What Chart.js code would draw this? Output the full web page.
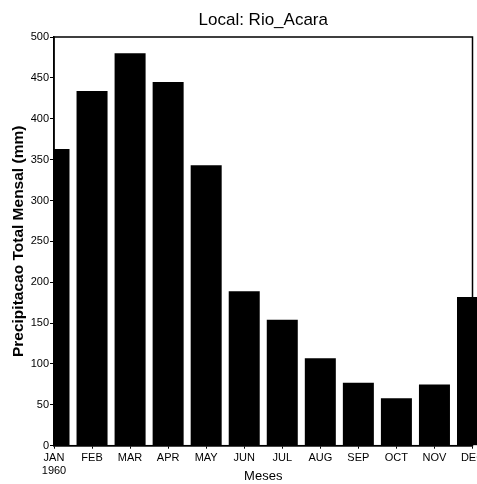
<!DOCTYPE html>
<html lang="pt">
<head>
    <meta charset="UTF-8">
    <title>Local: Rio_Acara</title>
    <script src="https://cdn.jsdelivr.net/npm/chart.js"></script>
    <style>
        html, body { margin: 0; padding: 0; background: #fff; }
        #wrap { width: 477px; height: 484px; }
    </style>
</head>
<body>
    <div id="wrap"><canvas id="barChart" width="477" height="484"></canvas></div>

    <script>
        // Monthly data
        const months = [['JAN', '1960'], 'FEB', 'MAR', 'APR', 'MAY', 'JUN', 'JUL', 'AUG', 'SEP', 'OCT', 'NOV', 'DEC'];
        const precip = [363, 434, 480, 445, 343, 189, 154, 107, 77, 58, 75, 182];
        const yTicks = [0, 50, 100, 150, 200, 250, 300, 350, 400, 450, 500];

        const tickFont = { family: 'Liberation Sans, Arial, sans-serif', size: 11 };

        // frame around the plot area (top + right lines)
        const frame = {
            id: 'frame',
            afterDatasetsDraw(chart) {
                const a = chart.chartArea;
                const ctx = chart.ctx;
                ctx.save();
                ctx.strokeStyle = '#000';
                ctx.lineWidth = 1.5;
                ctx.strokeRect(a.left, a.top, a.right - a.left, a.bottom - a.top);
                ctx.restore();
            }
        };

        new Chart(document.getElementById('barChart'), {
            type: 'bar',
            data: {
                labels: months,
                datasets: [{
                    data: precip,
                    backgroundColor: '#000',
                    borderWidth: 0,
                    categoryPercentage: 1,
                    barPercentage: 0.815,
                    clip: { left: 0, top: 0, right: 30, bottom: 0 }
                }]
            },
            options: {
                responsive: false,
                animation: false,
                layout: { padding: { left: 0, right: 4.5, top: 0, bottom: 0 } },
                plugins: {
                    legend: { display: false },
                    tooltip: { enabled: false },
                    title: {
                        display: true,
                        text: 'Local: Rio_Acara',
                        fullSize: false,
                        color: '#000',
                        font: { family: 'Liberation Sans, Arial, sans-serif', size: 17, weight: 'normal' },
                        padding: { top: 10, bottom: 6.6 }
                    }
                },
                scales: {
                    x: {
                        offset: false,
                        grid: { display: true, drawOnChartArea: false, offset: false, tickLength: 3, color: '#000' },
                        border: { display: true, color: '#000', width: 1.5 },
                        ticks: { color: '#000', font: tickFont, padding: 2.5, maxRotation: 0, autoSkip: false },
                        title: {
                            display: true,
                            text: 'Meses',
                            color: '#000',
                            font: { family: 'Liberation Sans, Arial, sans-serif', size: 13 },
                            padding: { top: 0, bottom: 0 }
                        },
                        afterFit(scale) {
                            scale.height = 484 - 446.7 + 1;
                            scale.paddingLeft = 0;
                            scale.paddingRight = 0;
                        }
                    },
                    y: {
                        min: 0,
                        max: 500,
                        afterBuildTicks(scale) {
                            scale.ticks = yTicks.map(v => ({ value: v }));
                        },
                        grid: { display: true, drawOnChartArea: false, tickLength: 4, color: '#000' },
                        border: { display: true, color: '#000', width: 1.5 },
                        ticks: { color: '#000', font: tickFont, padding: 1 },
                        title: {
                            display: true,
                            text: 'Precipitacao Total Mensal (mm)',
                            color: '#000',
                            font: { family: 'Liberation Sans, Arial, sans-serif', size: 15.5, weight: 'bold' },
                            padding: { top: 9, bottom: 0 }
                        },
                        afterFit(scale) {
                            scale.width = 54;
                            scale.paddingTop = 0;
                            scale.paddingBottom = 0;
                        }
                    }
                }
            },
            plugins: [frame]
        });
    </script>
</body>
</html>
